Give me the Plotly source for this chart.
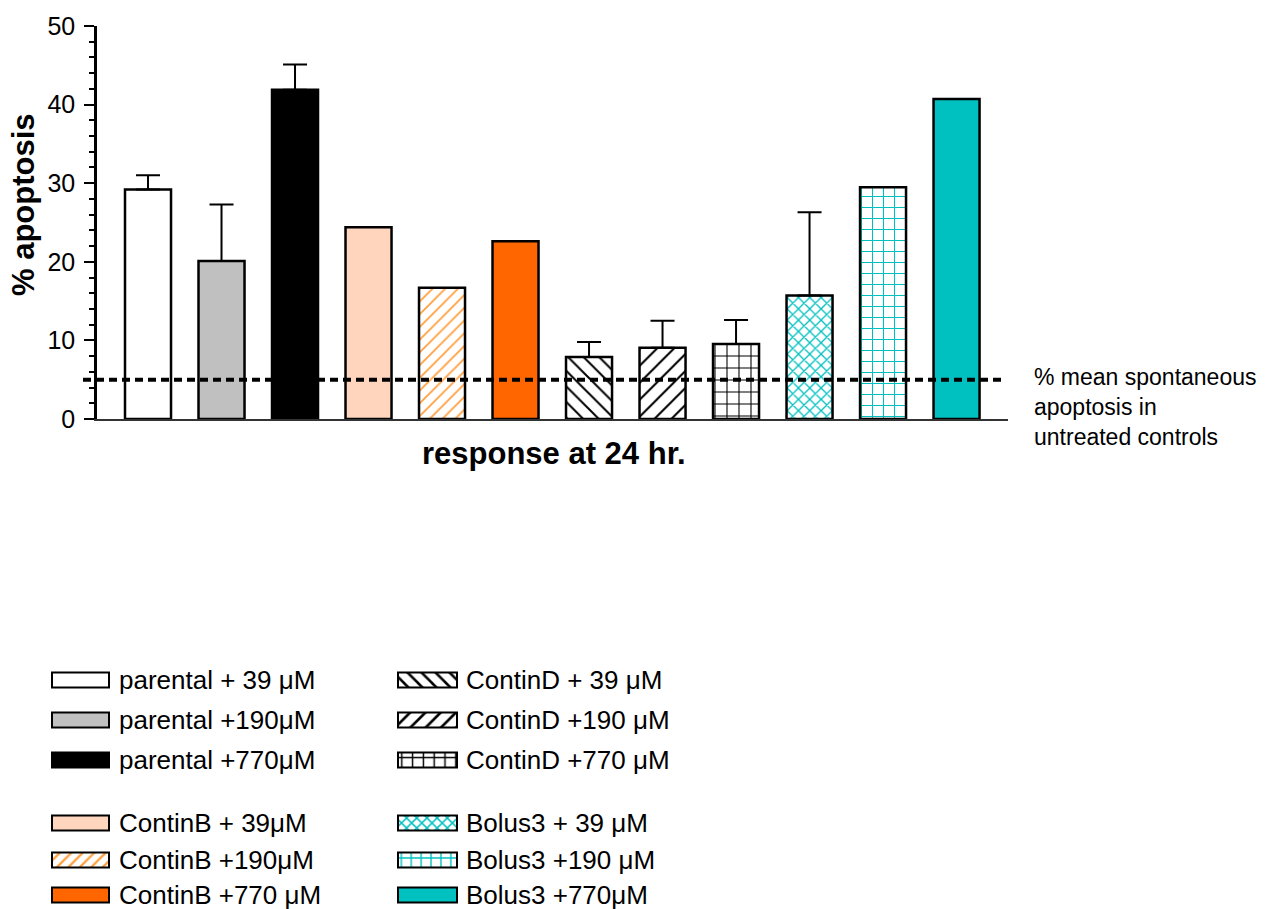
import plotly.graph_objects as go

# ---------------- data ----------------
categories = ["parental + 39 μM", "parental +190μM", "parental +770μM",
              "ContinB + 39μM", "ContinB +190μM", "ContinB +770 μM",
              "ContinD + 39 μM", "ContinD +190 μM", "ContinD +770 μM",
              "Bolus3 + 39 μM", "Bolus3 +190 μM", "Bolus3 +770μM"]
apoptosis_pct = [29.2, 20.1, 41.9, 24.4, 16.7, 22.6, 7.9, 9.05, 9.55, 15.7, 29.5, 40.7]
error_plus = [1.8, 7.2, 3.2, None, None, None, 1.9, 3.45, 3.05, 10.6, None, None]
spontaneous_mean = 5.0
y_ticks = [0, 10, 20, 30, 40, 50]

# ---------------- styles ----------------
fill_colors = ["#FFFFFF", "#C0C0C0", "#000000", "#FFD5BE", "#FFFFFF", "#FF6600",
               "#FFFFFF", "#FFFFFF", "#FFFFFF", "#FFFFFF", "#FFFFFF", "#00C0C0"]
pat_shapes = ["", "", "", "", "/", "", "\\", "/", "+", "x", "+", ""]
pat_fg = ["#000000", "#000000", "#000000", "#000000", "#FFA040", "#000000", "#000000",
          "#000000", "#000000", "#00BFBF", "#00BFBF", "#000000"]
pat_size = [10, 10, 10, 10, 9, 10, 11, 12, 12, 8, 11, 10]
pat_solid = [0.2, 0.2, 0.2, 0.2, 0.2, 0.2, 0.18, 0.17, 0.17, 0.3, 0.18, 0.2]

FONT = "Arial, 'Liberation Sans', sans-serif"
W, H = 1274, 909
ML, MR, MT, MB = 40, 20, 26, 5
PW, PH = W - ML - MR, H - MT - MB


def px_x(x):
    return (x - ML) / PW


def px_y(y):
    return (H - MB - y) / PH


def pattern(i, size_scale=1.0, solid_add=0.0):
    if not pat_shapes[i]:
        return dict(shape="")
    return dict(shape=pat_shapes[i], fgcolor=pat_fg[i], bgcolor=fill_colors[i],
                size=pat_size[i] * size_scale, solidity=min(1, pat_solid[i] + solid_add),
                fillmode="replace")


fig = go.Figure()

for i, cat in enumerate(categories):
    err = error_plus[i]
    fig.add_trace(go.Bar(
        x=[cat], y=[apoptosis_pct[i]], width=0.626,
        marker=dict(color=fill_colors[i], line=dict(color="black", width=2.5),
                    pattern=pattern(i)),
        error_y=(dict(type="data", symmetric=False, array=[err], arrayminus=[0],
                      color="black", thickness=2, width=12)
                 if err is not None else dict(visible=False)),
        showlegend=False, hoverinfo="skip"))

# ---------------- custom legend (swatches on a helper axis) ----------------
leg_cols_x = [(52, 57, 117), (398, 59, 464)]  # swatch left, swatch width, text left
leg_rows_y = [680, 720, 760, 823, 860, 895]
for idx, cat in enumerate(categories):
    col = 0 if idx < 6 else 1
    row = idx % 6
    x0, w, tx = leg_cols_x[col]
    yc = leg_rows_y[row]
    fig.add_trace(go.Bar(
        x=[w], base=[x0], y=[yc], orientation="h", width=15,
        xaxis="x2", yaxis="y2",
        marker=dict(color=fill_colors[idx], line=dict(color="black", width=2),
                    pattern=pattern(idx, 0.9, 0.08)),
        showlegend=False, hoverinfo="skip"))
    fig.add_annotation(x=tx, y=yc, xref="x2", yref="y2", text=cat,
                       showarrow=False, xanchor="left", yanchor="middle",
                       font=dict(family=FONT, size=26, color="black"))

# ---------------- layout ----------------
fig.update_layout(
    width=W, height=H, margin=dict(l=ML, r=MR, t=MT, b=MB, autoexpand=False),
    paper_bgcolor="white", plot_bgcolor="white",
    font=dict(family=FONT, color="black"),
    barmode="overlay",
    xaxis=dict(domain=[px_x(97), px_x(1008)], range=[-0.694, 11.70],
               showticklabels=False, ticks="", showgrid=False, zeroline=False,
               showline=True, linecolor="#333333", linewidth=2, fixedrange=True),
    yaxis=dict(domain=[px_y(419), 1], range=[0, 50], tickvals=y_ticks,
               ticks="outside", ticklen=10, tickwidth=2, tickcolor="black",
               tickfont=dict(family=FONT, size=25, color="black"),
               minor=dict(dtick=2, ticks="outside", ticklen=5, tickwidth=2,
                          tickcolor="black", showgrid=False),
               showgrid=False, zeroline=False, showline=True, linecolor="black",
               linewidth=2.5, ticklabelstandoff=4),
    xaxis2=dict(domain=[0, 1], range=[ML, W - MR], visible=False, anchor="y2"),
    yaxis2=dict(domain=[0, px_y(655)], range=[H - MB, 655], visible=False, anchor="x2"),
)

fig.add_shape(type="line", xref="paper", yref="y", x0=px_x(83), x1=px_x(1006),
              y0=spontaneous_mean, y1=spontaneous_mean, layer="above",
              line=dict(color="black", width=4, dash="8px,5px"))

fig.add_annotation(x=px_x(24), y=px_y(205), xref="paper", yref="paper",
                   text="<b>% apoptosis</b>", textangle=-90, showarrow=False,
                   xanchor="center", yanchor="middle",
                   font=dict(family=FONT, size=31, color="black"))
fig.add_annotation(x=px_x(554), y=px_y(453), xref="paper", yref="paper",
                   text="<b>response at 24 hr.</b>", showarrow=False,
                   xanchor="center", yanchor="middle",
                   font=dict(family=FONT, size=31, color="black"))
fig.add_annotation(x=px_x(1032), y=px_y(407), xref="paper", yref="paper",
                   text="% mean spontaneous<br>apoptosis in<br>untreated controls",
                   showarrow=False, xanchor="left", yanchor="middle", align="left",
                   font=dict(family=FONT, size=23, color="black"))

fig.write_html("out.html", config={"displayModeBar": False},
               post_script="document.body.style.margin='0px';")
